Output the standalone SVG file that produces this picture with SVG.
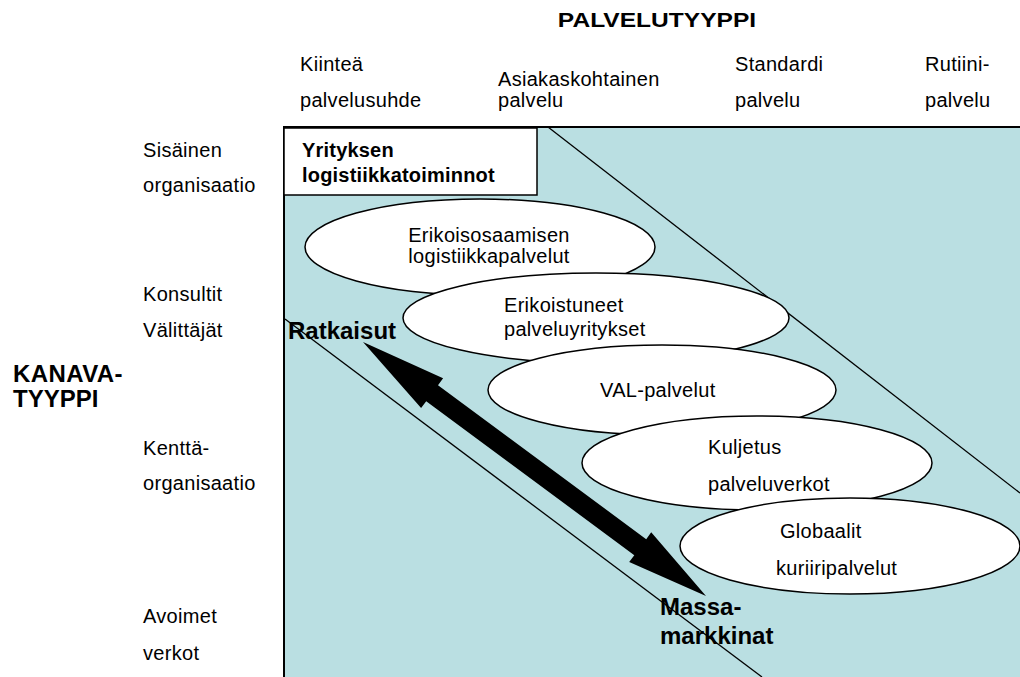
<svg xmlns="http://www.w3.org/2000/svg" width="1020" height="677" viewBox="0 0 1020 677">
<style>
.t{font-family:"Liberation Sans",Arial,sans-serif;font-size:20px;fill:#000;letter-spacing:0.3px}
.b{font-family:"Liberation Sans",Arial,sans-serif;font-size:20px;font-weight:bold;fill:#000;letter-spacing:0.2px}
.bl{font-family:"Liberation Sans",Arial,sans-serif;font-size:24px;font-weight:bold;fill:#000}
.el{fill:#fff;stroke:#000;stroke-width:1.5}
.ln{stroke:#000;stroke-width:1.3;fill:none}
</style>
<rect width="1020" height="677" fill="#fff"/>
<g id="field">
<rect x="284" y="127" width="760" height="560" fill="#BADFE2" stroke="#000" stroke-width="2"/>
</g>
<g id="connectors">
<line class="ln" x1="548" y1="127" x2="1020" y2="493"/>
<line class="ln" x1="285" y1="319" x2="762" y2="677"/>
<polygon points="363,342 443.1,378.3 438,385.2 646.2,539.2 651.2,532.3 706,596 629.2,562.1 634.3,555.2 426.2,401.2 421.1,408.1" fill="#000"/>
</g>
<g id="box-yrityksen">
<rect x="284" y="128" width="253" height="67" fill="#fff" stroke="#000" stroke-width="1.5"/>
<text class="b" x="302" y="157">Yrityksen</text>
<text class="b" x="302" y="182">logistiikkatoiminnot</text>
</g>
<g id="e1">
<ellipse class="el" cx="480" cy="247" rx="175" ry="48"/>
<text class="t" x="489" y="242" text-anchor="middle">Erikoisosaamisen</text>
<text class="t" x="489" y="263" text-anchor="middle">logistiikkapalvelut</text>
</g>
<g id="e2">
<ellipse class="el" cx="596" cy="318" rx="193" ry="45"/>
<text class="t" x="504" y="312">Erikoistuneet</text>
<text class="t" x="504" y="336">palveluyritykset</text>
</g>
<g id="e3">
<ellipse class="el" cx="662" cy="390" rx="174" ry="45"/>
<text class="t" x="600" y="397">VAL-palvelut</text>
</g>
<g id="e4">
<ellipse class="el" cx="757" cy="463" rx="175" ry="47"/>
<text class="t" x="708" y="454">Kuljetus</text>
<text class="t" x="708" y="491">palveluverkot</text>
</g>
<g id="e5">
<ellipse class="el" cx="850" cy="546" rx="170" ry="48"/>
<text class="t" x="780" y="538">Globaalit</text>
<text class="t" x="776" y="575">kuriiripalvelut</text>
</g>
<g id="arrow-labels">
<text class="bl" x="288" y="339">Ratkaisut</text>
<text class="bl" x="660" y="615">Massa-</text>
<text class="bl" x="660" y="644">markkinat</text>
</g>
<g id="header">
<text class="b" text-anchor="middle" transform="translate(657,27) scale(1.26,1)" style="font-size:19.5px;letter-spacing:0">PALVELUTYYPPI</text>
<text class="t" x="300" y="71">Kiinteä</text>
<text class="t" x="300" y="107">palvelusuhde</text>
<text class="t" x="498" y="86">Asiakaskohtainen</text>
<text class="t" x="498" y="107">palvelu</text>
<text class="t" x="735" y="71">Standardi</text>
<text class="t" x="735" y="107">palvelu</text>
<text class="t" x="925" y="71">Rutiini-</text>
<text class="t" x="925" y="107">palvelu</text>
</g>
<g id="rows">
<text class="bl" x="13" y="382" style="font-size:24px;letter-spacing:0.4px">KANAVA-</text>
<text class="bl" x="13" y="407" style="font-size:24px">TYYPPI</text>
<text class="t" x="143" y="157">Sisäinen</text>
<text class="t" x="143" y="192">organisaatio</text>
<text class="t" x="143" y="301">Konsultit</text>
<text class="t" x="143" y="337">Välittäjät</text>
<text class="t" x="143" y="455">Kenttä-</text>
<text class="t" x="143" y="490">organisaatio</text>
<text class="t" x="143" y="623">Avoimet</text>
<text class="t" x="143" y="660">verkot</text>
</g>
</svg>
